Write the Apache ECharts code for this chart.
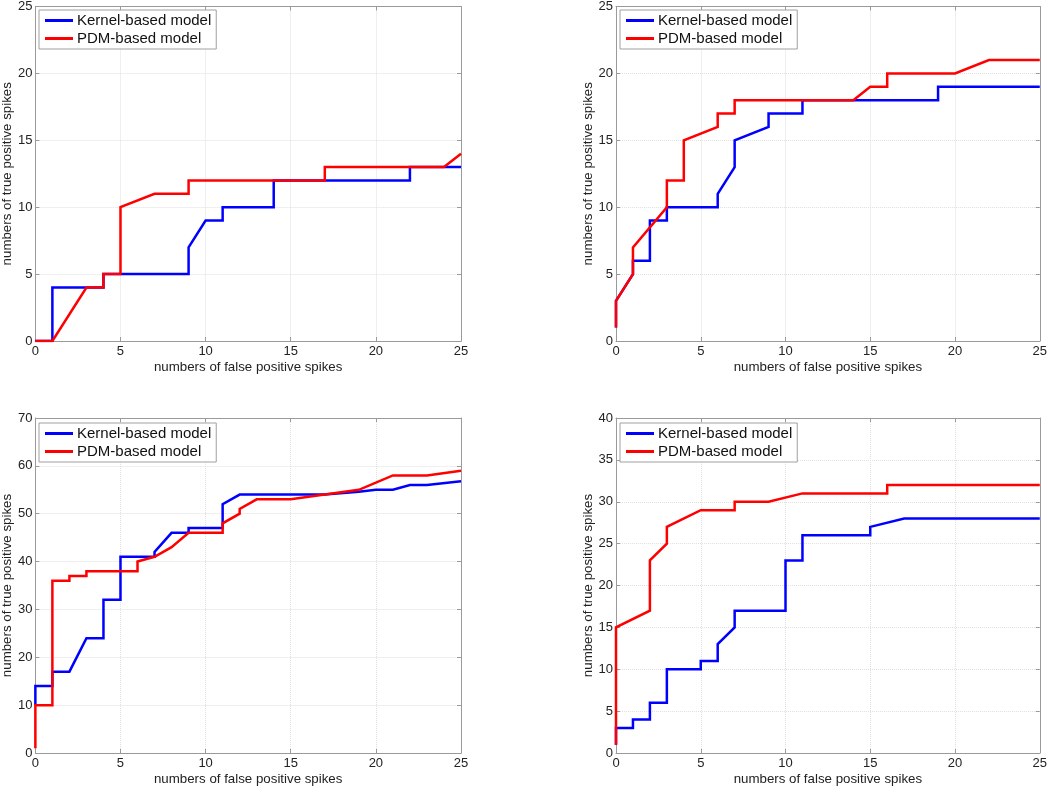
<!DOCTYPE html>
<html>
<head>
<meta charset="utf-8">
<script src="https://cdn.jsdelivr.net/npm/echarts@6/dist/echarts.min.js"></script>
<style>html,body{margin:0;padding:0;background:#fff}#c{width:1050px;height:787px}</style>
</head>
<body>
<div id="c"></div>
<script>
// ---- data: [false positives, true positives] ----
const seriesNames = ['Kernel-based model', 'PDM-based model'];
const xTicks = {min: 0, max: 25, interval: 5};
const yRanges = [{max: 25, interval: 5}, {max: 25, interval: 5}, {max: 70, interval: 10}, {max: 40, interval: 5}];

const kernel1 = [[0,0],[1,0],[1,4],[3,4],[4,4],[4,5],[5,5],[9,5],[9,7],[10,9],[11,9],[11,10],[14,10],[14,12],[22,12],[22,13],[25,13]];
const pdm1    = [[0,0],[1,0],[3,4],[4,4],[4,5],[5,5],[5,10],[7,11],[9,11],[9,12],[17,12],[17,13],[24,13],[25,14]];

const kernel2 = [[0,1],[0,3],[1,5],[1,6],[2,6],[2,9],[3,9],[3,10],[6,10],[6,11],[7,13],[7,15],[9,16],[9,17],[11,17],[11,18],[19,18],[19,19],[25,19]];
const pdm2    = [[0,1],[0,3],[1,5],[1,7],[3,10],[3,12],[4,12],[4,15],[6,16],[6,17],[7,17],[7,18],[14,18],[15,19],[16,19],[16,20],[20,20],[22,21],[25,21]];

const kernel3 = [[0,10],[0,14],[1,14],[1,17],[2,17],[3,24],[4,24],[4,32],[5,32],[5,41],[7,41],[7,42],[8,46],[9,46],[9,47],[11,47],[11,52],[12,54],[17,54],[19,54.6],[20,55],[21,55],[22,56],[23,56],[25,56.8]];
const pdm3    = [[0,1],[0,10],[1,10],[1,36],[2,36],[2,37],[3,37],[3,38],[6,38],[6,40],[7,41],[8,43],[9,46],[11,46],[11,48],[12,50],[12,51],[13,53],[15,53],[17,54],[19,55],[21,58],[23,58],[25,59]];

const kernel4 = [[0,1],[0,3],[1,3],[1,4],[2,4],[2,6],[3,6],[3,10],[5,10],[5,11],[6,11],[6,13],[7,15],[7,17],[10,17],[10,23],[11,23],[11,26],[15,26],[15,27],[17,28],[25,28]];
const pdm4    = [[0,1],[0,15],[2,17],[2,23],[3,25],[3,27],[5,29],[7,29],[7,30],[9,30],[11,31],[16,31],[16,32],[25,32]];

const kernelData = [kernel1, kernel2, kernel3, kernel4];
const pdmData = [pdm1, pdm2, pdm3, pdm4];

const xLabel = 'numbers of false positive spikes';
const yLabel = 'numbers of true positive spikes';

// ---- layout ----
const grids = [
  {left: 35, top: 5, width: 426, height: 336},
  {left: 616, top: 5, width: 426, height: 336},
  {left: 35, top: 418, width: 426, height: 335},
  {left: 616, top: 418, width: 426, height: 335}
];
const legendPos = [{left: 39, top: 10}, {left: 620, top: 10}, {left: 39, top: 423}, {left: 620, top: 423}];

const FONT = '"Liberation Sans", Arial, sans-serif';
const AX = '#9a9a9a';
const colors = ['#0000ff', '#ff0000'];

const option = {
  animation: false,
  backgroundColor: '#fff',
  textStyle: {fontFamily: FONT},
  grid: grids.map(g => Object.assign({containLabel: false}, g)),
  xAxis: [], yAxis: [], series: [], legend: []
};

grids.forEach((g, i) => {
  const yr = yRanges[i];
  option.xAxis.push({
    type: 'value', gridIndex: i, min: xTicks.min, max: xTicks.max, interval: xTicks.interval,
    position: 'bottom',
    name: xLabel, nameLocation: 'middle', nameGap: 20,
    nameTextStyle: {fontSize: 13.3, color: '#222', fontFamily: FONT},
    axisLine: {show: true, onZero: false, lineStyle: {color: AX, width: 1}},
    axisTick: {show: true, inside: true, length: 4, lineStyle: {color: AX}},
    axisLabel: {fontSize: 13, color: '#222', margin: 4, fontFamily: FONT},
    splitLine: {show: true, lineStyle: {color: '#e0e0e0', width: 1, type: 'dotted'}}
  });
  option.xAxis.push({
    type: 'value', gridIndex: i, min: xTicks.min, max: xTicks.max, interval: xTicks.interval,
    position: 'top',
    axisLine: {show: true, onZero: false, lineStyle: {color: AX, width: 1}},
    axisTick: {show: true, inside: true, length: 4, lineStyle: {color: AX}},
    axisLabel: {show: false}, splitLine: {show: false}
  });
  option.yAxis.push({
    type: 'value', gridIndex: i, min: 0, max: yr.max, interval: yr.interval,
    position: 'left',
    name: yLabel, nameLocation: 'middle', nameGap: 21,
    nameTextStyle: {fontSize: 13.3, color: '#222', fontFamily: FONT},
    axisLine: {show: true, onZero: false, lineStyle: {color: AX, width: 1}},
    axisTick: {show: true, inside: true, length: 4, lineStyle: {color: AX}},
    axisLabel: {fontSize: 13, color: '#222', margin: 3, fontFamily: FONT},
    splitLine: {show: true, lineStyle: {color: '#e0e0e0', width: 1, type: 'dotted'}}
  });
  option.yAxis.push({
    type: 'value', gridIndex: i, min: 0, max: yr.max, interval: yr.interval,
    position: 'right',
    axisLine: {show: true, onZero: false, lineStyle: {color: AX, width: 1}},
    axisTick: {show: true, inside: true, length: 4, lineStyle: {color: AX}},
    axisLabel: {show: false}, splitLine: {show: false}
  });
  [kernelData[i], pdmData[i]].forEach((d, k) => {
    option.series.push({
      type: 'line', name: seriesNames[k], xAxisIndex: 2 * i, yAxisIndex: 2 * i,
      data: d, symbol: 'none', showSymbol: false, z: 2 + k,
      lineStyle: {color: colors[k], width: 2.5, cap: 'butt', join: 'miter'},
      itemStyle: {color: colors[k]}
    });
  });
  option.legend.push(Object.assign({
    orient: 'vertical', data: seriesNames,
    icon: 'rect', itemWidth: 28, itemHeight: 3, itemGap: 3,
    padding: [3, 5, 3, 6],
    backgroundColor: '#fff', borderColor: '#a0a0a0', borderWidth: 1, borderRadius: 0,
    textStyle: {fontSize: 15, lineHeight: 15, color: '#111', fontFamily: FONT, padding: [0, 0, 0, -1]},
    selectedMode: false
  }, legendPos[i]));
});

const chart = echarts.init(document.getElementById('c'), null, {renderer: 'canvas'});
chart.setOption(option);
</script>
</body>
</html>
